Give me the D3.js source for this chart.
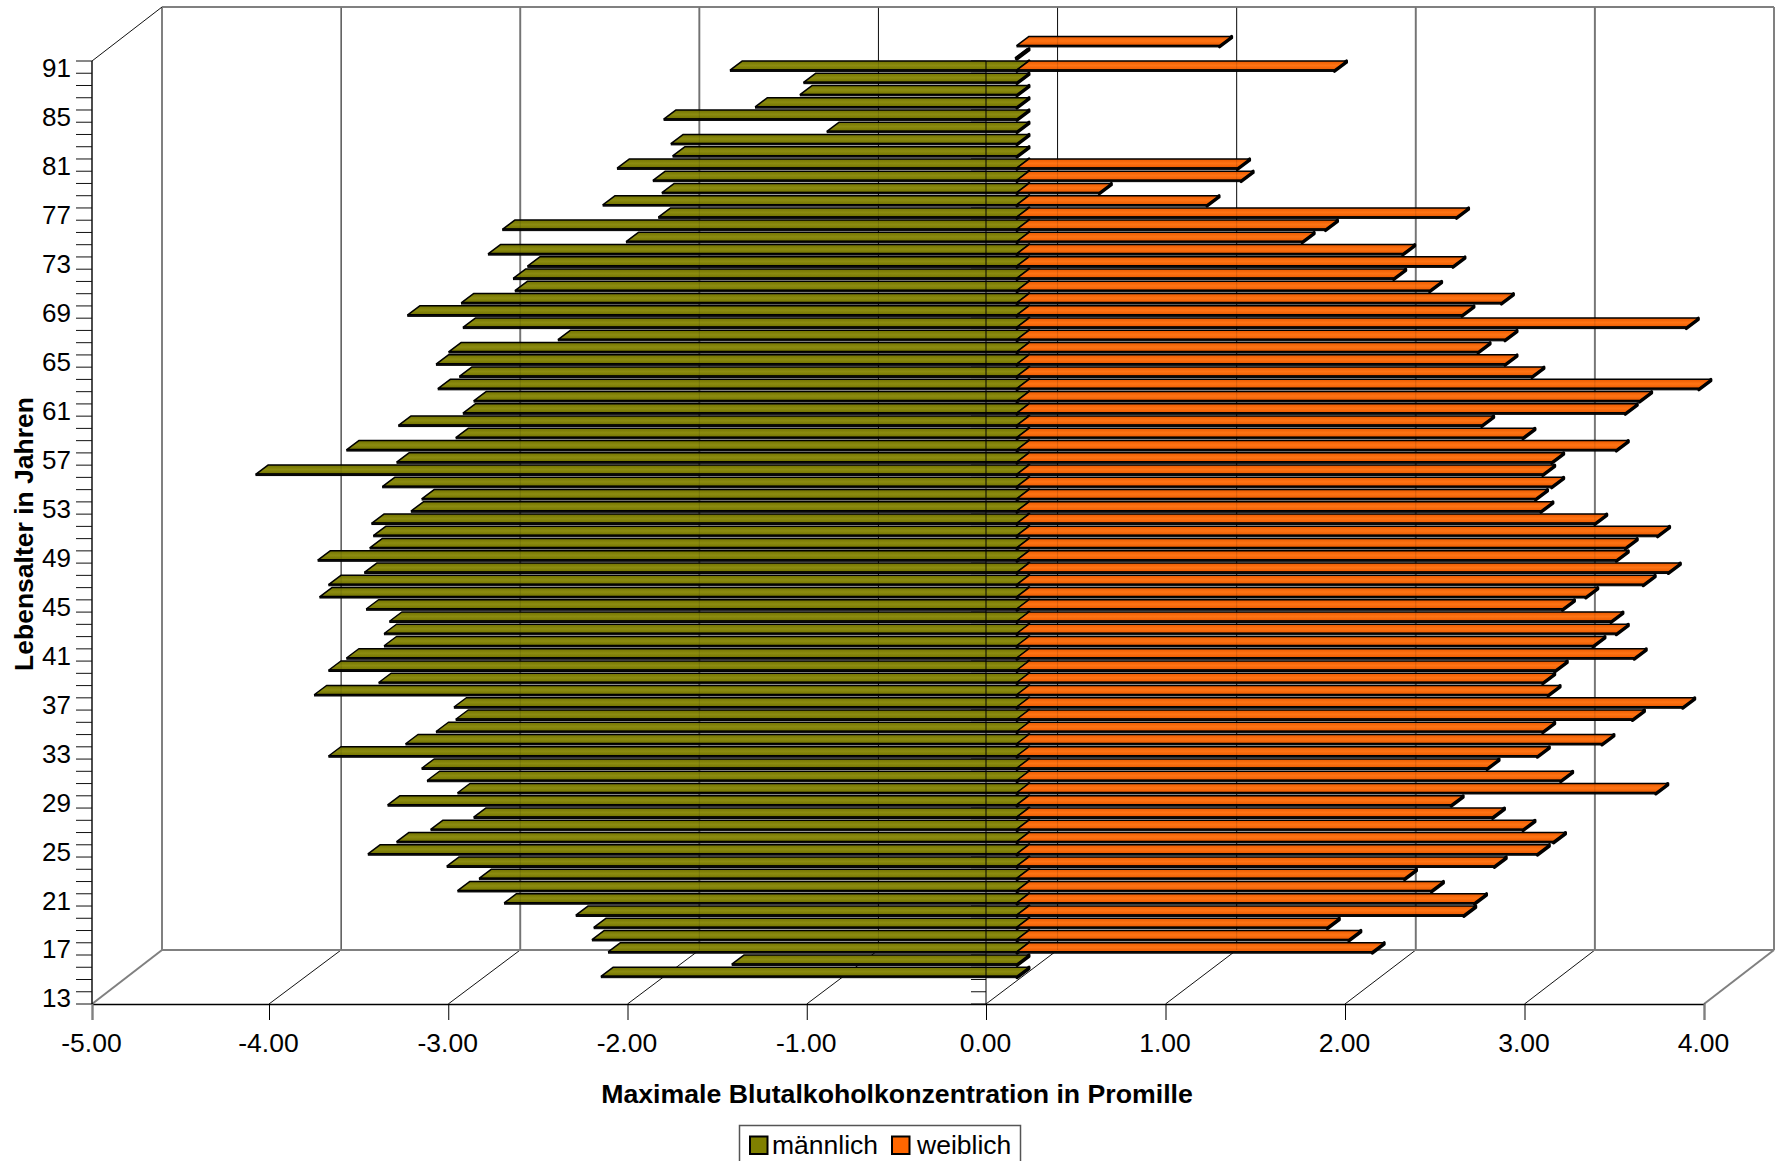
<!DOCTYPE html>
<html><head><meta charset="utf-8">
<script src="https://cdn.jsdelivr.net/npm/d3@7/dist/d3.min.js"></script>
<style>html,body{margin:0;padding:0;background:#fff;overflow:hidden}svg{display:block}text{font-family:"Liberation Sans",Arial,sans-serif;fill:#000}</style>
</head><body><svg id="c" width="1781" height="1161"></svg>
<script>
// Rows listed from the top of the chart to the bottom
const ages = [91,89,87,86,85,84,83,82,81,80,79,78,77,76,75,74,73,72,71,70,69,68,67,66,65,64,63,62,61,60,59,58,57,56,55,54,53,52,51,50,49,48,47,46,45,44,43,42,41,40,39,38,37,36,35,34,33,32,31,30,29,28,27,26,25,24,23,22,21,20,19,18,17,16,15,14,13];
const maleValues = [null,-0.02,-1.61,-1.20,-1.22,-1.47,-1.98,-1.07,-1.94,-1.93,-2.24,-2.04,-1.99,-2.32,-2.01,-2.88,-2.19,-2.96,-2.74,-2.82,-2.81,-3.11,-3.41,-3.10,-2.57,-3.18,-3.25,-3.12,-3.24,-3.04,-3.10,-3.46,-3.14,-3.75,-3.47,-4.26,-3.55,-3.33,-3.39,-3.61,-3.60,-3.62,-3.91,-3.65,-3.85,-3.90,-3.64,-3.51,-3.54,-3.54,-3.75,-3.85,-3.57,-3.93,-3.15,-3.14,-3.25,-3.42,-3.85,-3.33,-3.30,-3.13,-3.52,-3.04,-3.28,-3.47,-3.63,-3.19,-3.01,-3.13,-2.87,-2.47,-2.37,-2.38,-2.29,-1.60,-2.33];
const femaleValues = [1.14,null,1.78,null,null,null,null,null,null,null,1.24,1.26,0.47,1.07,2.46,1.73,1.60,2.16,2.44,2.11,2.31,2.71,2.49,3.74,2.73,2.58,2.73,2.88,3.81,3.48,3.40,2.60,2.83,3.35,2.99,2.94,2.99,2.90,2.93,3.23,3.58,3.40,3.35,3.64,3.50,3.18,3.05,3.32,3.35,3.22,3.45,3.01,2.94,2.97,3.72,3.44,2.94,3.27,2.91,2.63,3.04,3.57,2.43,2.66,2.83,3.00,2.91,2.67,2.17,2.32,2.56,2.50,1.74,1.86,1.99,null,null];
const xTicks = [-5,-4,-3,-2,-1,0,1,2,3,4];
const labelledAges = [91,85,81,77,73,69,65,61,57,53,49,45,41,37,33,29,25,21,17,13];
const seriesNames = ["männlich","weiblich"];
const seriesColors = ["#808000","#FF6600"];

const svg = d3.select("#c");
const defs = svg.append("defs");
[["g0","#727200","#8c8c10"],["g1","#ea5a00","#ff7414"]].forEach(([id,a,b])=>{
  const g = defs.append("linearGradient").attr("id",id).attr("x1",0).attr("x2",0).attr("y1",0).attr("y2",1);
  g.append("stop").attr("offset","0%").attr("stop-color",a);
  g.append("stop").attr("offset","50%").attr("stop-color",b);
  g.append("stop").attr("offset","100%").attr("stop-color",a);
});

// Front edge of the floor and the left wall
const xF = d3.scaleLinear().domain([-5,-4,0,4]).range([92,269,986,1704]);
const xB = d3.scaleLinear().domain([-5,4]).range([162,1774]);
const y = d3.scaleBand().domain(ages).range([61,1004]);
const bw = y.bandwidth();
const backY = [7,950], frontY = [61,1004];
const heavy = new Set([-5,-3,-2,2,3,4]);

const line = (g,x1,y1,x2,y2,col,w)=>g.append("line").attr("x1",x1).attr("y1",y1).attr("x2",x2).attr("y2",y2).attr("stroke",col).attr("stroke-width",w);

// Back wall and floor
const grid = svg.append("g");
xTicks.forEach(t=>{
  const h = heavy.has(t);
  line(grid,xB(t),backY[0],xB(t),backY[1],h?"#808080":"#111",h?2:1);
  const edge = t===-5||t===4;
  line(grid,xF(t),frontY[1],xB(t),backY[1],edge?"#808080":"#111",edge?2:1);
});
line(grid,xB(-5),backY[0],xB(4),backY[0],"#808080",2);
line(grid,xB(-5),backY[1],xB(4),backY[1],"#808080",2);
line(grid,xF(-5),frontY[0],xB(-5),backY[0],"#111",1);

// Category axis ticks at the value zero (behind the bars)
const edges = ages.map(a=>y(a)).concat([frontY[1]]);
const zeroTicks = svg.append("g");
edges.forEach(v=>line(zeroTicks,xF(0)-15,v,xF(0),v,"#111",1));

// Bars
const frontDx=31, backDx=43, faceTop=-21.7, faceBottom=-20.2, depthDy=9, tipInset=2;
const barLayer = svg.append("g");
ages.forEach((age,i)=>{
  const c = y(age)+bw/2;
  [maleValues[i],femaleValues[i]].forEach((v,s)=>{
    if(v===null) return;
    const g = barLayer.append("g");
    const a = Math.min(v,0), b = Math.max(v,0);
    const xa = xF(a)+frontDx+(s===0?tipInset:0), xb = xF(b)+frontDx-(s===1?tipInset:0);
    const dx = backDx-frontDx;
    const yT=c+faceTop, yB=c+faceBottom;
    // end cap on the right-hand side
    g.append("polygon")
      .attr("points",[[xb,yB],[xb,yT],[xb+dx,yT-depthDy],[xb+dx,yB-depthDy]].map(p=>p.join(",")).join(" "))
      .attr("fill","#000").attr("stroke","#000").attr("stroke-width",3).attr("stroke-linejoin","round");
    // upper face
    g.append("polygon")
      .attr("points",[[xa,yT],[xa+dx,yT-depthDy],[xb+dx,yT-depthDy],[xb,yT]].map(p=>p.join(",")).join(" "))
      .attr("fill","url(#g"+s+")").attr("stroke","#000").attr("stroke-width",1.5).attr("stroke-linejoin","round");
    // front face
    g.append("rect").attr("x",xa).attr("y",yT).attr("width",Math.max(xb-xa,0.5)).attr("height",yB-yT)
      .attr("fill","#111").attr("stroke","#000").attr("stroke-width",1);
  });
});

// Back gridlines show faintly through the bars, the zero axis clearly
const over = svg.append("g").attr("opacity",0.12);
xTicks.forEach(t=>{ if(t>-5&&t<4) line(over,xB(t),backY[0],xB(t),backY[1],"#000",1); });
line(svg,xF(0),frontY[0],xF(0),frontY[1],"#000",1);

// Left axis
const leftAxis = svg.append("g");
line(leftAxis,xF(-5),frontY[0],xF(-5),frontY[1],"#000",1.4);
edges.forEach(v=>line(leftAxis,76,v,xF(-5),v,"#111",1));
labelledAges.forEach(a=>{
  leftAxis.append("text").attr("x",71).attr("y",y(a)+bw/2+9.6).attr("text-anchor","end").attr("font-size",26).text(a);
});

// Bottom axis
const fmt = d3.format(".2f");
const bottom = svg.append("g").attr("transform","translate(0,"+frontY[1]+")")
  .call(d3.axisBottom(xF).tickValues(xTicks).tickSize(16).tickFormat(d=>fmt(d).replace("\u2212","-")));
bottom.select(".domain").attr("stroke","#000").attr("stroke-width",1.4);
bottom.selectAll(".tick line").attr("stroke",d=>(d===-5||d===4)?"#808080":"#000").attr("stroke-width",d=>(d===-5||d===4)?2:1);
bottom.selectAll(".tick text").attr("dy",0).attr("y",48).attr("x",-1).attr("font-size",26.5).attr("font-family",null);

// Axis titles
svg.append("text").attr("x",897).attr("y",1103).attr("text-anchor","middle").attr("font-size",26.7).attr("font-weight","bold").text("Maximale Blutalkoholkonzentration in Promille");
svg.append("text").attr("transform","translate(33,534) rotate(-90)").attr("text-anchor","middle").attr("font-size",26.5).attr("font-weight","bold").text("Lebensalter in Jahren");

// Legend
const leg = svg.append("g");
leg.append("rect").attr("x",739.5).attr("y",1125.5).attr("width",281).attr("height",50).attr("fill","#fff").attr("stroke","#555").attr("stroke-width",1.5);
[[750,772],[892,917]].forEach(([sx,tx],i)=>{
  leg.append("rect").attr("x",sx).attr("y",1136.5).attr("width",17.5).attr("height",17.5).attr("fill",seriesColors[i]).attr("stroke","#000").attr("stroke-width",2);
  leg.append("text").attr("x",tx).attr("y",1154).attr("font-size",26.5).text(seriesNames[i]);
});
</script></body></html>
